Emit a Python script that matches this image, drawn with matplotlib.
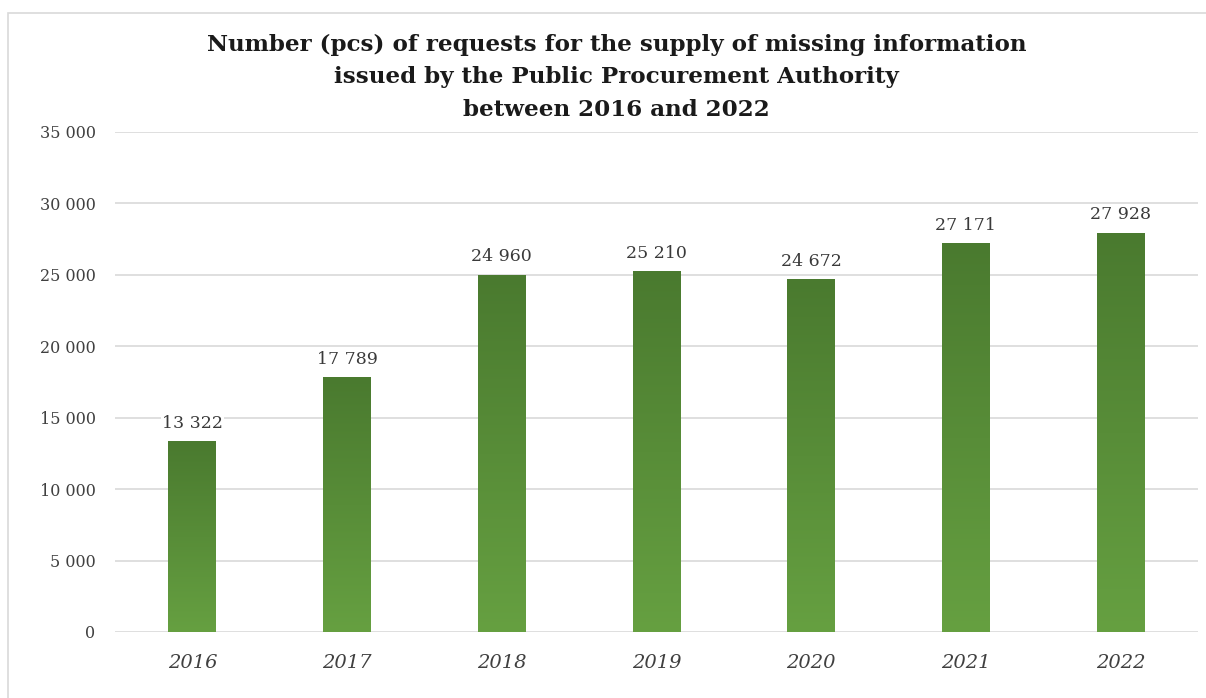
import numpy as np
import matplotlib.pyplot as plt
from matplotlib.colors import LinearSegmentedColormap
from matplotlib.patches import Rectangle

years = ['2016', '2017', '2018', '2019', '2020', '2021', '2022']
requests = [13322, 17789, 24960, 25210, 24672, 27171, 27928]

plt.rcParams['font.family'] = ['DejaVu Serif']

fig = plt.figure(figsize=(12.06, 6.98), dpi=100)
ax = fig.add_axes([115 / 1206, 66 / 698, 1083 / 1206, 500 / 698])

# gradient: darker on top, lighter at the bottom
cmap = LinearSegmentedColormap.from_list('grn', ['#66a041', '#4a7a2f'])
grad = np.linspace(0, 1, 256).reshape(-1, 1)

width = 0.31
x = np.arange(len(years))
bars = ax.bar(x, requests, width=width, color='none', edgecolor='none', zorder=2)
for b in bars:
    x0, y0 = b.get_x(), b.get_y()
    w, h = b.get_width(), b.get_height()
    ax.imshow(grad, cmap=cmap, origin='lower', aspect='auto', interpolation='bilinear',
              extent=(x0, x0 + w, y0, y0 + h), zorder=2)

for xi, v in zip(x, requests):
    ax.text(xi, v + 700, f'{v:,}'.replace(',', ' '), ha='center', va='bottom',
            fontsize=12.5, color='#3a3a3a', fontweight='medium', zorder=4,
            bbox=dict(facecolor='white', edgecolor='none', pad=0.5))

ax.set_xlim(-0.5, len(years) - 0.5)
ax.set_ylim(0, 35000)
ax.set_yticks(np.arange(0, 35001, 5000))
ax.set_yticklabels([f'{t:,}'.replace(',', ' ') for t in range(0, 35001, 5000)],
                   fontsize=11.5, color='#404040')
ax.set_xticks(x)
ax.set_xticklabels(years, fontsize=14, style='italic', color='#404040')
ax.tick_params(axis='both', length=0)
ax.tick_params(axis='y', pad=14)
ax.tick_params(axis='x', pad=16)
ax.grid(axis='y', color='#d9d9d9', linewidth=1.2, zorder=0)
ax.set_axisbelow(True)
for s in ax.spines.values():
    s.set_visible(False)

fig.text(0.511, 1 - 77 / 698, 'Number (pcs) of requests for the supply of missing information\n'
         'issued by the Public Procurement Authority\nbetween 2016 and 2022',
         ha='center', va='center', fontsize=16.6, fontweight='bold', color='#1a1a1a',
         linespacing=1.62)

# outer frame
fig.add_artist(Rectangle((8 / 1206, -0.01), 1.02, 1 - 13 / 698 + 0.01,
                         transform=fig.transFigure, fill=False,
                         edgecolor='#d9d9d9', linewidth=1.2))

fig.savefig('out.png', dpi=100)
